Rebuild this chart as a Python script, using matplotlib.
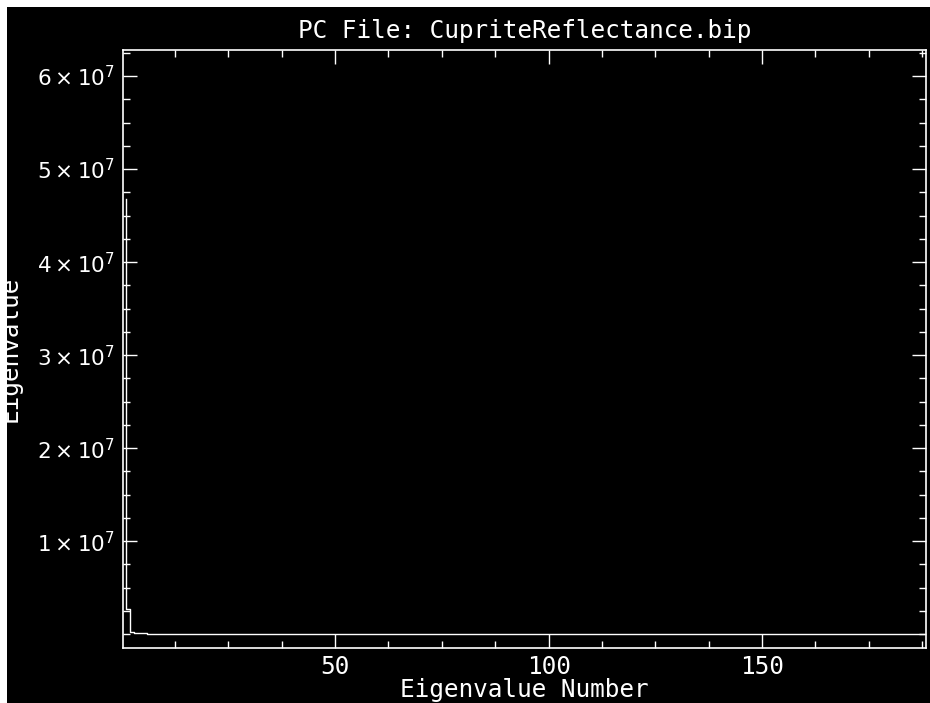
import numpy as np
import matplotlib
matplotlib.use("Agg")
import matplotlib.pyplot as plt
from matplotlib.ticker import MultipleLocator, FixedLocator, FuncFormatter
from matplotlib.patches import Rectangle

# ---- data (eigenvalues, in thousands) ----
title_text = "PC File: CupriteReflectance.bip"
x_label = "Eigenvalue Number"
y_label = "Eigenvalue"
eigen_k = [
    46800, 2710, 240, 150, 110, 90, 72, 60, 52, 45,
    40, 36, 32, 29, 26, 24, 22, 20, 19, 18,
    17, 16, 15, 14, 13.5, 13, 12.5, 12, 11.5, 11,
    10.6, 10.2, 9.8, 9.5, 9.2, 8.9, 8.6, 8.3, 8.0, 7.8,
    7.6, 7.4, 7.2, 7.0, 6.8, 6.6, 6.4, 6.2, 6.0, 5.9,
    5.8, 5.7, 5.6, 5.5, 5.4, 5.3, 5.2, 5.1, 5.0, 4.9,
    4.8, 4.7, 4.6, 4.5, 4.4, 4.3, 4.2, 4.1, 4.0, 3.95,
    3.9, 3.85, 3.8, 3.75, 3.7, 3.65, 3.6, 3.55, 3.5, 3.45,
    3.4, 3.35, 3.3, 3.25, 3.2, 3.15, 3.1, 3.05, 3.0, 2.95,
    2.9, 2.85, 2.8, 2.75, 2.7, 2.65, 2.6, 2.55, 2.5, 2.45,
    2.4, 2.36, 2.32, 2.28, 2.24, 2.2, 2.16, 2.12, 2.08, 2.04,
    2.0, 1.97, 1.94, 1.91, 1.88, 1.85, 1.82, 1.79, 1.76, 1.73,
    1.7, 1.67, 1.64, 1.61, 1.58, 1.55, 1.52, 1.49, 1.46, 1.43,
    1.4, 1.38, 1.36, 1.34, 1.32, 1.3, 1.28, 1.26, 1.24, 1.22,
    1.2, 1.18, 1.16, 1.14, 1.12, 1.1, 1.08, 1.06, 1.04, 1.02,
    1.0, 0.98, 0.96, 0.94, 0.92, 0.9, 0.88, 0.86, 0.84, 0.82,
    0.8, 0.78, 0.76, 0.74, 0.72, 0.7, 0.68, 0.66, 0.64, 0.62,
    0.6, 0.58, 0.56, 0.54, 0.52, 0.5, 0.48, 0.46, 0.44, 0.42,
    0.4, 0.38, 0.36, 0.34, 0.32, 0.3, 0.28, 0.26,
]
x_major_ticks = [50, 100, 150]
y_major_ticks = [1e7, 2e7, 3e7, 4e7, 5e7, 6e7]

eigen = np.array(eigen_k) * 1e3
eig_num = np.arange(1, len(eigen) + 1)

W, H = 930, 703
fig = plt.figure(figsize=(W / 100, H / 100), dpi=100)
fig.patch.set_facecolor("black")

L, R, T, B = 123.3, 926.0, 50.0, 648.0
ax = fig.add_axes([L / W, 1 - B / H, (R - L) / W, (B - T) / H])
ax.set_facecolor("black")

ax.plot(eig_num, eigen, color="white", lw=1.0, drawstyle="steps-pre")

ax.set_xlim(0.4, 188.4)
ax.set_ylim(-1.48e6, 6.28e7)

mono = "DejaVu Sans Mono"
ax.xaxis.set_major_locator(FixedLocator(x_major_ticks))
ax.xaxis.set_minor_locator(MultipleLocator(12.5))
ax.yaxis.set_major_locator(FixedLocator(y_major_ticks))
ax.yaxis.set_minor_locator(MultipleLocator(2.5e6))
ax.yaxis.set_major_formatter(FuncFormatter(
    lambda v, p: r"$%d\times10^{7}$" % round(v / 1e7)))

for s in ax.spines.values():
    s.set_color("white")
    s.set_linewidth(1.2)

ax.tick_params(which="both", direction="in", top=True, right=True,
               colors="white", width=1.0)
ax.tick_params(which="major", length=10)
ax.tick_params(which="minor", length=5)
ax.tick_params(axis="x", which="major", pad=5.3, labelsize=17.6)
ax.tick_params(axis="y", which="major", pad=5.8, labelsize=15.5)
for lab in ax.get_xticklabels():
    lab.set_fontfamily(mono)

ax.set_xlabel(x_label, color="white", fontsize=17.6, family=mono, labelpad=-1)
ax.set_title(title_text, color="white", fontsize=17.6, family=mono, pad=8.6)

fig.text(17 / W, 1 - 349 / H, y_label, rotation=90, rotation_mode="anchor",
         ha="center", va="baseline", color="white", fontsize=17.6, family=mono)

# white L-shaped border at top and left
fig.add_artist(Rectangle((0, 1 - 7 / H), 1, 7 / H, transform=fig.transFigure,
                         facecolor="white", edgecolor="none", zorder=20))
fig.add_artist(Rectangle((0, 0), 7 / W, 1, transform=fig.transFigure,
                         facecolor="white", edgecolor="none", zorder=20))

fig.savefig("out.png", dpi=100, facecolor=fig.get_facecolor())
